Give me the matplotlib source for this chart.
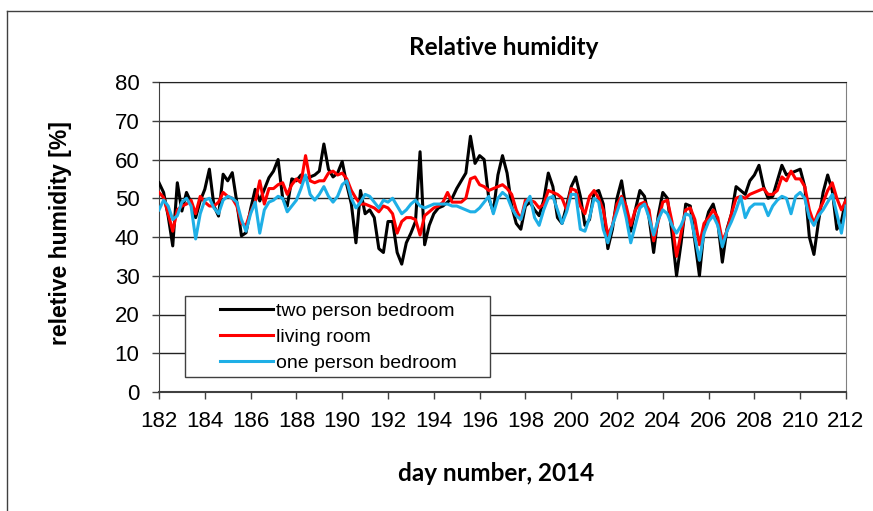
import numpy as np
import matplotlib
matplotlib.use("Agg")
import matplotlib.pyplot as plt
from matplotlib.lines import Line2D
from matplotlib.patches import Rectangle


# sample times, every 0.2 day
days = np.round(np.arange(182.0, 212.01, 0.2), 1)

two_person = [
    # 182.0 - 187.0
    54.0, 51.5, 45.4, 37.7, 54.0, 46.7, 51.5, 48.9, 45.0, 49.3, 52.3, 57.5, 48.0,
    45.4, 56.2, 54.5, 56.6, 48.9, 40.3, 41.1, 47.2, 52.3, 49.3, 52.3, 55.3, 57.0,
    # 187.2 - 192.0
    60.0, 50.0, 48.0, 55.0, 54.5, 56.0, 55.0, 55.5, 56.0, 57.0, 64.0, 57.5, 55.5,
    56.5, 59.5, 53.5, 48.5, 38.5, 52.0, 46.0, 47.0, 45.0, 37.0, 36.0, 44.0,
    # 192.2 - 197.0
    44.0, 36.0, 33.0, 38.5, 41.0, 44.0, 62.0, 38.0, 43.0, 46.0, 47.5, 48.0, 49.0,
    50.0, 52.5, 54.5, 56.5, 66.0, 59.0, 61.0, 60.0, 50.0, 46.5, 56.0, 61.0,
    # 197.2 - 202.0
    56.5, 48.0, 43.5, 42.0, 48.0, 49.0, 47.0, 45.5, 49.5, 56.5, 53.0, 45.0, 43.5,
    48.0, 53.0, 55.5, 50.5, 43.0, 44.5, 51.5, 52.0, 48.5, 37.0, 42.0, 50.0,
    # 202.2 - 207.0
    54.5, 47.0, 41.5, 47.0, 52.0, 50.5, 45.0, 36.0, 45.5, 51.5, 50.0, 41.0, 30.0,
    38.5, 48.5, 48.0, 39.0, 30.0, 42.0, 46.5, 48.5, 44.0, 33.5, 42.0, 46.0,
    # 207.2 - 212.0
    53.0, 52.0, 51.0, 54.5, 56.0, 58.5, 53.0, 50.0, 50.5, 54.5, 58.5, 56.0, 56.5,
    57.0, 57.5, 53.0, 40.0, 35.5, 44.0, 51.5, 56.0, 52.0, 42.0, 44.0, 50.0,
]

living_room = [
    51.5, 50.2, 46.0, 41.5, 47.0, 48.0, 48.5, 49.5, 46.0, 50.5, 49.0, 48.0, 48.0,
    49.0, 51.5, 50.5, 50.0, 48.0, 43.5, 43.0, 46.5, 49.0, 54.5, 48.5, 52.5, 52.5,
    53.5, 54.0, 51.0, 53.5, 55.0, 54.0, 61.0, 54.5, 54.0, 54.5, 54.5, 56.5, 57.0,
    56.0, 56.5, 55.0, 52.0, 50.0, 48.5, 48.5, 48.0, 47.5, 46.5, 48.0, 47.5,
    46.0, 41.0, 44.0, 45.0, 45.0, 44.5, 40.5, 45.5, 46.5, 47.5, 48.0, 49.0, 51.5,
    49.0, 49.0, 49.0, 50.0, 55.0, 55.5, 53.5, 53.0, 52.0, 52.5, 53.0, 53.5,
    52.5, 51.0, 47.0, 44.5, 49.5, 49.5, 49.0, 47.5, 48.5, 52.0, 51.5, 51.0, 50.0,
    47.0, 52.5, 52.0, 48.0, 46.0, 50.5, 52.0, 50.0, 47.0, 40.5, 43.0, 48.5,
    50.5, 48.0, 43.0, 47.0, 48.5, 49.0, 47.0, 39.0, 44.0, 49.0, 49.5, 44.0, 35.0,
    41.0, 47.0, 47.5, 44.5, 38.0, 43.5, 45.0, 47.0, 45.0, 39.0, 41.5, 46.0,
    50.0, 50.5, 50.0, 51.0, 51.5, 52.0, 52.5, 51.0, 51.0, 52.0, 55.5, 54.5, 57.0,
    55.0, 55.0, 53.0, 47.0, 43.5, 46.5, 49.0, 52.0, 54.0, 50.0, 47.0, 49.5,
]

one_person = [
    47.0, 49.5, 48.0, 44.5, 45.5, 49.0, 50.0, 48.0, 39.5, 46.0, 49.5, 50.0, 47.5,
    46.0, 49.5, 50.5, 50.0, 49.0, 44.5, 41.5, 46.0, 49.0, 41.0, 47.0, 49.0, 49.5,
    50.5, 50.0, 46.5, 48.0, 49.5, 52.5, 56.0, 51.0, 49.5, 51.0, 53.0, 50.5, 49.0,
    50.5, 53.5, 54.5, 50.0, 47.5, 49.0, 51.0, 50.5, 49.0, 47.5, 49.5, 49.0,
    50.0, 48.0, 46.0, 47.0, 48.5, 49.5, 48.0, 47.5, 48.0, 48.5, 48.5, 48.5, 48.5,
    48.0, 48.0, 47.5, 47.0, 46.5, 46.5, 47.5, 49.0, 50.5, 46.0, 50.0, 51.5,
    50.5, 47.5, 45.5, 44.5, 48.5, 50.5, 45.0, 43.0, 47.0, 50.0, 50.5, 47.0, 43.5,
    46.5, 51.0, 51.0, 42.0, 41.5, 45.0, 50.0, 49.0, 42.0, 38.5, 43.0, 46.5,
    50.0, 45.0, 38.5, 43.0, 47.5, 48.5, 45.0, 40.5, 44.5, 47.0, 46.0, 43.0, 41.0,
    43.0, 46.0, 45.5, 40.0, 34.0, 41.0, 44.0, 45.5, 43.0, 37.5, 41.5, 44.0,
    47.0, 50.5, 45.0, 47.5, 48.5, 48.5, 48.5, 45.5, 48.0, 49.5, 50.5, 50.0, 46.0,
    50.5, 51.5, 50.0, 45.0, 43.0, 45.5, 47.0, 49.0, 51.0, 46.0, 41.0, 48.0,
]

series_names = ["two person bedroom", "living room", "one person bedroom"]
series_colors = ["#000000", "#FF0000", "#1EAFE6"]

x_ticks = list(range(182, 213, 2))
y_ticks = list(range(0, 81, 10))

W, H = 873, 511
fig = plt.figure(figsize=(W / 100, H / 100), dpi=100)
ax = fig.add_axes([159 / W, 1 - 392 / H, (846 - 159) / W, (392 - 82) / H])

for vals, name, col in zip([two_person, living_room, one_person], series_names, series_colors):
    ax.plot(days, vals, color=col, lw=2.2, label=name, zorder=3, solid_joinstyle="round")

ax.set_xlim(182, 212)
ax.set_ylim(0, 80)
ax.set_xticks(x_ticks)
ax.set_yticks(y_ticks)
ax.yaxis.grid(True, color="#222222", lw=1.0)
ax.set_axisbelow(True)

for lab in ax.get_xticklabels() + ax.get_yticklabels():
    lab.set_family("Liberation Sans")
ax.tick_params(axis="both", direction="out", length=5, width=1, color="#404040",
               labelsize=16)
ax.tick_params(axis="x", pad=9)
ax.tick_params(axis="y", pad=9)

ax.spines["left"].set_color("#404040")
ax.spines["bottom"].set_color("#404040")
ax.spines["bottom"].set_linewidth(1.5)
ax.spines["top"].set_color("#222222")
ax.spines["right"].set_color("#808080")

# titles
fig.text(504 / W, 1 - 47 / H, "Relative humidity", ha="center", va="center",
         family="Lato", weight="bold", fontsize=17.5)
fig.text(496 / W, 1 - 473 / H, "day number, 2014", ha="center", va="center",
         family="Lato", weight="bold", fontsize=17.5)
fig.text(61 / W, 1 - 233 / H, "reletive humidity [%]", ha="center", va="center",
         rotation=90, family="Liberation Sans", weight="bold", fontsize=16.5)

# legend with a hand drawn frame
frame = Rectangle((185 / W, 1 - 377 / H), (490 - 185) / W, (377 - 296) / H,
                  transform=fig.transFigure, facecolor="white", edgecolor="#404040",
                  lw=1.0, zorder=4)
ax.add_patch(frame)
frame.set_clip_on(False)
leg = ax.legend(loc="upper left", bbox_to_anchor=(220 / W, 1 - 302 / H),
                bbox_transform=fig.transFigure, frameon=False, borderpad=0,
                borderaxespad=0, handlelength=2.7, handletextpad=0.2,
                labelspacing=0.43, prop={"family": "Liberation Sans", "size": 14})
leg.set_zorder(5)

# outer chart border (left and top edges)
fig.add_artist(Line2D([7 / W, 7 / W], [0, 1 - 11 / H], transform=fig.transFigure,
                      color="#404040", lw=1.0))
fig.add_artist(Line2D([7 / W, 1], [1 - 11 / H, 1 - 11 / H], transform=fig.transFigure,
                      color="#404040", lw=1.0))

fig.savefig("out.png", dpi=100)
